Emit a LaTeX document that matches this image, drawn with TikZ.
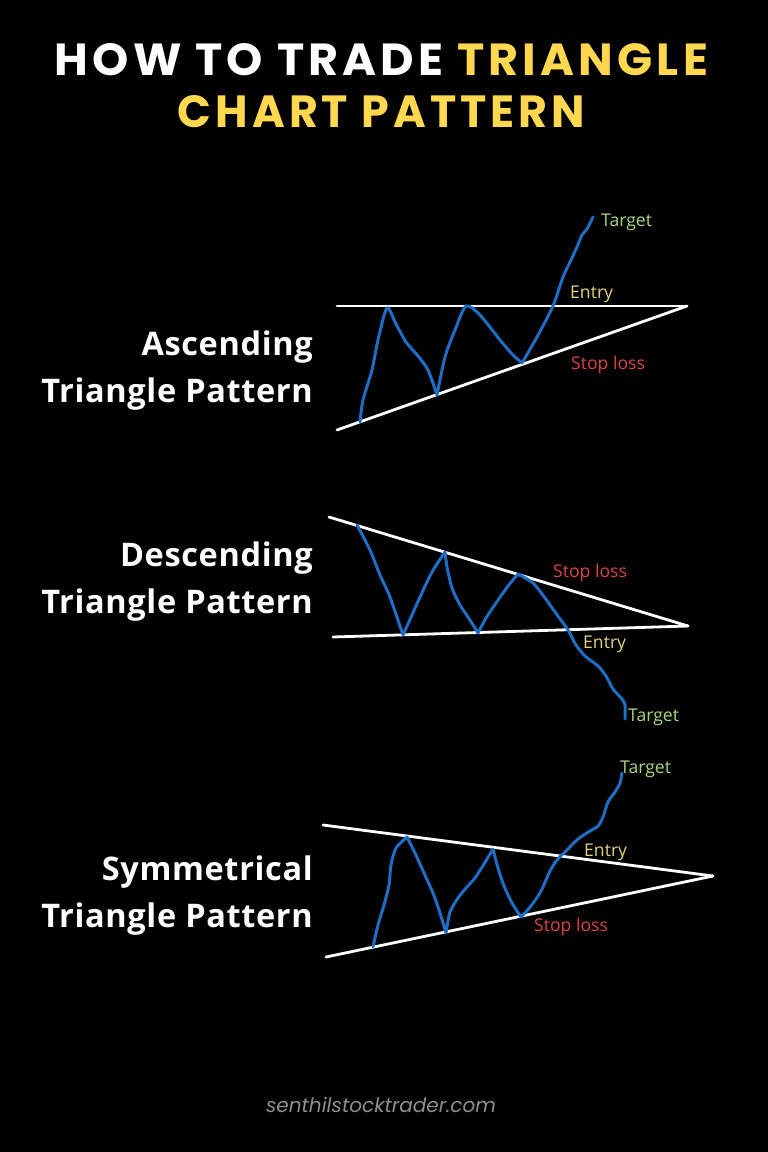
\documentclass[tikz,border=0pt]{standalone}
\usepackage{fontspec}
\usepackage{graphicx}
\setmainfont{Open Sans}
\newfontfamily\titlefont{Poppins}
\newfontfamily\footfont{Poppins}
\definecolor{bgc}{HTML}{000000}
\definecolor{titleyellow}{HTML}{FFD84F}
\definecolor{chartblue}{HTML}{1F6DC4}
\definecolor{tgtgreen}{HTML}{A9D87C}
\definecolor{entryyellow}{HTML}{E6D37A}
\definecolor{stopred}{HTML}{DD4444}
\definecolor{footgray}{HTML}{8E8E8E}
\begin{document}
\begin{tikzpicture}[x=1pt,y=-1pt,
  trendline/.style={draw=white,line width=2.8pt,line cap=round},
  price/.style={draw=chartblue,line width=3pt,line cap=round,line join=round},
  sidelabel/.style={anchor=base east,inner sep=0pt,text=white,font=\fontsize{32.5}{38}\selectfont\bfseries\addfontfeatures{LetterSpace=2}},
  smalllabel/.style={anchor=mid west,inner sep=0pt,yshift=-4pt,font=\fontsize{17.6}{21}\selectfont},
  tgt/.style={smalllabel,text=tgtgreen},
  ent/.style={smalllabel,text=entryyellow},
  stp/.style={smalllabel,text=stopred}]
\fill[bgc] (0,0) rectangle (768,1152);
\useasboundingbox (0,0) rectangle (768,1152);

% Title
\node[anchor=base,inner sep=0pt,text=white] (t1) at (381.5,75)
  {\resizebox{653pt}{32pt}{\titlefont\bfseries\addfontfeatures{LetterSpace=9}HOW TO TRADE \textcolor{titleyellow}{TRIANGLE}}};
\node[anchor=base,inner sep=0pt,text=titleyellow] (t2) at (381.5,127)
  {\resizebox{407pt}{32pt}{\titlefont\bfseries\addfontfeatures{LetterSpace=9}CHART PATTERN}};

% Ascending
\node[sidelabel] (a1) at (313,355) {Ascending};
\node[sidelabel] (a2) at (313,402) {Triangle Pattern};
\coordinate (aTL) at (337,306);
\coordinate (aR) at (687,306);
\coordinate (aBL) at (337,430);
\draw[trendline] (aTL) -- (aR);
\draw[trendline] (aBL) -- (aR);
\draw[price] plot[smooth,tension=0.45] coordinates {(360,422) (363,400) (372,370) (378,340) (387,308) (396,324) (406,342) (418,356) (428,370) (437,395)}
  -- plot[smooth,tension=0.45] coordinates {(437,395) (445,357) (455,330) (466,306) (480,315) (500,340) (513,355) (522,363)}
  -- plot[smooth,tension=0.45] coordinates {(522,363) (537,337) (553,306) (563,277) (571,260) (577,247) (582,235) (587,229) (593,217)};
\node[tgt] (aT) at (601,220) {Target};
\node[ent] (aE) at (570,292) {Entry};
\node[stp] (aS) at (571,363) {Stop loss};

% Descending
\node[sidelabel] (d1) at (313,566) {Descending};
\node[sidelabel] (d2) at (313,613) {Triangle Pattern};
\coordinate (dTL) at (329,517);
\coordinate (dR) at (688,626);
\coordinate (dBL) at (333,637);
\draw[trendline] (dTL) -- (dR);
\draw[trendline] (dBL) -- (dR);
\draw[price] plot[smooth,tension=0.45] coordinates {(357,525) (370,550) (380,575) (390,597) (403,635)}
  -- plot[smooth,tension=0.45] coordinates {(403,635) (412,615) (420,597) (432,572) (445,552)}
  -- plot[smooth,tension=0.45] coordinates {(445,552) (447,567) (452,588) (460,605) (470,620) (478,633)}
  -- plot[smooth,tension=0.45] coordinates {(478,633) (486,618) (496,603) (508,586) (518,574)}
  -- plot[smooth,tension=0.45] coordinates {(518,574) (533,583) (545,598) (555,612) (568,630) (576,645) (585,656) (598,666) (606,676) (613,689) (622,699) (625,705) (625,719)};
\node[ent] (dE) at (583,642) {Entry};
\node[stp] (dS) at (553,571) {Stop loss};
\node[tgt] (dT) at (628,715) {Target};

% Symmetrical
\node[sidelabel] (s1) at (313,880) {Symmetrical};
\node[sidelabel] (s2) at (313,927) {Triangle Pattern};
\coordinate (sTL) at (323,825);
\coordinate (sR) at (713,876);
\coordinate (sBL) at (326,957);
\draw[trendline] (sTL) -- (sR);
\draw[trendline] (sBL) -- (sR);
\draw[price] plot[smooth,tension=0.45] coordinates {(373,947) (378,925) (384,905) (389,885) (391,865) (396,848) (407,837)}
  -- plot[smooth,tension=0.45] coordinates {(407,837) (415,853) (424,873) (433,893) (440,913) (446,933)}
  -- plot[smooth,tension=0.45] coordinates {(446,933) (450,912) (458,898) (466,888) (475,878) (484,864) (493,849)}
  -- plot[smooth,tension=0.45] coordinates {(493,849) (498,868) (504,886) (512,903) (521,917)}
  -- plot[smooth,tension=0.45] coordinates {(521,917) (531,906) (541,891) (550,871) (557,860) (567,850) (578,839) (590,831) (598,826) (603,817) (608,802) (615,792) (620,783) (622,773)};
\node[tgt] (sT) at (620,767) {Target};
\node[ent] (sE) at (584,850) {Entry};
\node[stp] (sS) at (534,925) {Stop loss};

% Footer
\node[anchor=center,inner sep=0pt,text=footgray,font=\footfont\itshape\fontsize{20}{24}\selectfont] (foot) at (381,1105) {senthilstocktrader.com};
\end{tikzpicture}
\end{document}
